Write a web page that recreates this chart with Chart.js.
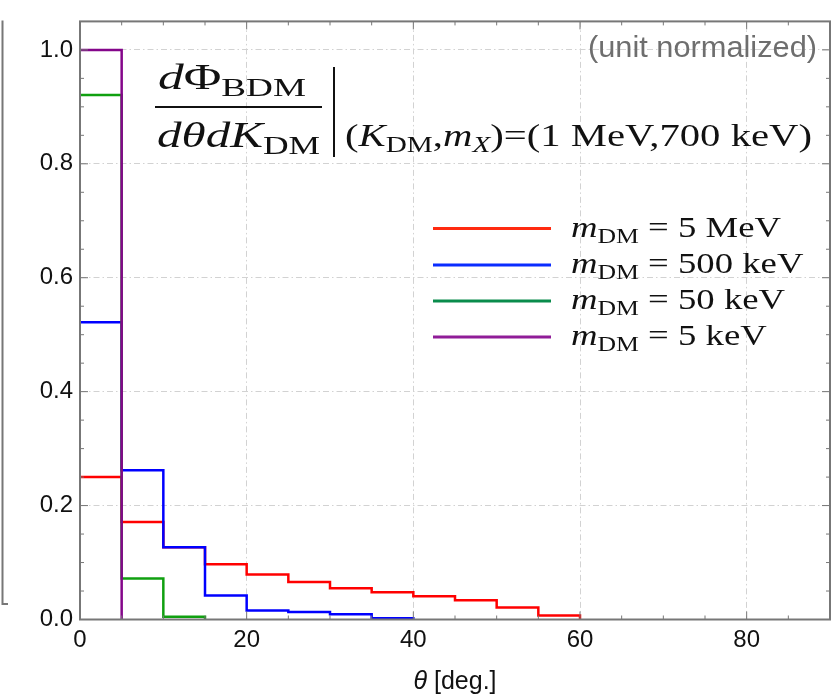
<!DOCTYPE html>
<html>
<head>
<meta charset="utf-8">
<script src="https://cdn.jsdelivr.net/npm/chart.js@4.4.1/dist/chart.umd.min.js"></script>
<style>
  html, body { margin: 0; padding: 0; background: #ffffff; }
  #wrap { width: 837px; height: 697px; }
</style>
</head>
<body>
<div id="wrap"><canvas id="c" width="837" height="697"></canvas></div>
<script>
// Angular bin edges of the histogram (degrees)
const thetaEdges = [0, 5, 10, 15, 20, 25, 30, 35, 40, 45, 50, 55, 60];

// Unit-normalized angular spectra, one value per 5-degree bin
const flux5MeV   = [0.250, 0.171, 0.127, 0.097, 0.079, 0.066, 0.055, 0.048, 0.041, 0.034, 0.021, 0.007];
const flux500keV = [0.522, 0.262, 0.127, 0.042, 0.016, 0.013, 0.009, 0.002];
const flux50keV  = [0.921, 0.072, 0.005];
const flux5keV   = [1.000];

// Dark-matter masses shown in the legend
const massLabels = ['5 MeV', '500 keV', '50 keV', '5 keV'];
const lineColors = ['#ff0000', '#0000ff', '#10a010', '#84068a'];
const keyColors  = ['#ff2a10', '#0a2cff', '#0a8c4c', '#901c98'];

// Axis ticks
const xTickValues = [0, 20, 40, 60, 80];
const yTickValues = [0.0, 0.2, 0.4, 0.6, 0.8, 1.0];

const SANS  = '"Liberation Sans", Arial, sans-serif';
const SERIF = '"Liberation Serif", "Times New Roman", serif';
const FRAME = '#777777';

// histogram outline: each value starts its bin, closing point drops to zero
function stepPoints(values) {
  const pts = values.map((v, i) => ({ x: thetaEdges[i], y: v }));
  pts.push({ x: thetaEdges[values.length], y: 0 });
  return pts;
}

const seriesValues = [flux5MeV, flux500keV, flux50keV, flux5keV];
const datasets = seriesValues.map((vals, i) => ({
  label: 'm_DM = ' + massLabels[i],
  data: stepPoints(vals),
  borderColor: lineColors[i],
  borderWidth: 2.5,
  stepped: true,
  pointRadius: 0,
  fill: false,
  order: seriesValues.length - i
}));

// text runs with a horizontal stretch to a given width
function drawRun(ctx, parts, x, y, width) {
  let natural = 0;
  parts.forEach(p => { ctx.font = p.font; p.w = ctx.measureText(p.text).width; natural += p.w; });
  const k = width ? width / natural : 1;
  ctx.save();
  ctx.translate(x, y);
  ctx.scale(k, 1);
  ctx.textAlign = 'left';
  ctx.textBaseline = 'alphabetic';
  let cx = 0;
  parts.forEach(p => { ctx.font = p.font; ctx.fillText(p.text, cx, p.dy || 0); cx += p.w; });
  ctx.restore();
}

const decor = {
  id: 'decor',
  afterDraw(chart) {
    const ctx = chart.ctx;
    const a = chart.chartArea;
    const xs = chart.scales.x, ys = chart.scales.y;
    ctx.save();

    // neighbouring panel edge
    ctx.strokeStyle = FRAME;
    ctx.lineWidth = 2;
    ctx.beginPath();
    ctx.moveTo(2.5, a.top - 1);
    ctx.lineTo(2.5, 604);
    ctx.lineTo(8, 604);
    ctx.stroke();

    // frame ticks
    ctx.lineWidth = 1;
    for (let t = 5; t < 90; t += 5) {
      const px = xs.getPixelForValue(t);
      const len = t % 20 === 0 ? 8 : 4;
      ctx.beginPath();
      ctx.moveTo(px, a.bottom); ctx.lineTo(px, a.bottom - len);
      ctx.moveTo(px, a.top); ctx.lineTo(px, a.top + len);
      ctx.stroke();
    }
    for (let k = 1; k <= 20; k++) {
      const py = ys.getPixelForValue(k * 0.05);
      const len = k % 4 === 0 ? 8 : 4;
      ctx.beginPath();
      ctx.moveTo(a.left, py); ctx.lineTo(a.left + len, py);
      ctx.moveTo(a.right, py); ctx.lineTo(a.right - len, py);
      ctx.stroke();
    }

    // frame
    ctx.lineWidth = 2;
    ctx.strokeRect(a.left, a.top, a.right - a.left, a.bottom - a.top);

    // normalization note
    ctx.fillStyle = '#6e6e6e';
    ctx.font = '29px ' + SANS;
    ctx.textAlign = 'right';
    ctx.textBaseline = 'alphabetic';
    const note = '(unit normalized)';
    const nw = ctx.measureText(note).width;
    ctx.save();
    ctx.translate(817, 57);
    ctx.scale(229 / nw, 1);
    ctx.fillText(note, 0, 0);
    ctx.restore();

    // differential flux expression
    ctx.fillStyle = '#111111';
    const I36 = 'italic 36px ' + SERIF, R36 = '36px ' + SERIF, R26 = '26px ' + SERIF;
    const I32 = 'italic 32px ' + SERIF, R32 = '32px ' + SERIF, R23 = '23px ' + SERIF, I23 = 'italic 23px ' + SERIF;
    drawRun(ctx, [
      { text: 'd', font: I36 }, { text: 'Φ', font: R36 }, { text: 'BDM', font: R26, dy: 7 }
    ], 158, 89, 148);
    drawRun(ctx, [
      { text: 'dθdK', font: I36 }, { text: 'DM', font: R26, dy: 7 }
    ], 157, 147, 163);
    ctx.strokeStyle = '#111111';
    ctx.lineWidth = 2;
    ctx.beginPath();
    ctx.moveTo(155, 107); ctx.lineTo(322, 107);
    ctx.moveTo(334, 67); ctx.lineTo(334, 157);
    ctx.stroke();
    drawRun(ctx, [
      { text: '(', font: R32 }, { text: 'K', font: I32 }, { text: 'DM', font: R23, dy: 6 },
      { text: ',', font: R32 }, { text: 'm', font: I32 }, { text: 'X', font: I23, dy: 6 },
      { text: ')=(1 MeV,700 keV)', font: R32 }
    ], 345, 146, 467);

    // legend
    const keyY = [228.5, 265, 301, 337];
    const I30 = 'italic 30px ' + SERIF, R30 = '30px ' + SERIF, R21 = '21px ' + SERIF;
    const baseParts = m => [
      { text: 'm', font: I30 }, { text: 'DM', font: R21, dy: 6 }, { text: ' = ' + m, font: R30 }
    ];
    // common stretch factor taken from the first entry
    let w0 = 0;
    baseParts(massLabels[0]).forEach(p => { ctx.font = p.font; w0 += ctx.measureText(p.text).width; });
    const stretch = 210 / w0;
    chart.data.datasets.forEach((ds, i) => {
      ctx.strokeStyle = keyColors[i];
      ctx.lineWidth = 3;
      ctx.beginPath();
      ctx.moveTo(433, keyY[i]); ctx.lineTo(551, keyY[i]);
      ctx.stroke();
      const parts = baseParts(massLabels[i]);
      let w = 0;
      parts.forEach(p => { ctx.font = p.font; w += ctx.measureText(p.text).width; });
      ctx.fillStyle = '#111111';
      drawRun(ctx, parts, 571, keyY[i] + 8, w * stretch);
    });

    // x-axis title
    ctx.fillStyle = '#111111';
    ctx.font = 'italic 25px ' + SANS;
    const tw = ctx.measureText('θ').width;
    ctx.font = '25px ' + SANS;
    const rest = ' [deg.]';
    const rw = ctx.measureText(rest).width;
    const cx = (a.left + a.right) / 2 - (tw + rw) / 2;
    ctx.textAlign = 'left';
    ctx.font = 'italic 25px ' + SANS;
    ctx.fillText('θ', cx, 689);
    ctx.font = '25px ' + SANS;
    ctx.fillText(rest, cx + tw, 689);

    ctx.restore();
  }
};

new Chart(document.getElementById('c'), {
  type: 'line',
  data: { datasets },
  options: {
    responsive: false,
    animation: false,
    devicePixelRatio: 1,
    layout: { padding: { top: 19, right: 7, left: 0, bottom: 0 } },
    plugins: { legend: { display: false }, tooltip: { enabled: false } },
    elements: { line: { tension: 0 } },
    scales: {
      x: {
        type: 'linear',
        min: 0, max: 90,
        afterBuildTicks: s => { s.ticks = xTickValues.map(v => ({ value: v })); },
        afterFit: s => { s.height = 77.5; },
        ticks: {
          color: '#111111',
          font: { family: SANS, size: 24 },
          padding: 6,
          maxRotation: 0,
          autoSkip: false,
          callback: v => String(v)
        },
        grid: { color: '#d2d2d2', lineWidth: 1, drawTicks: false },
        border: { display: false, dash: [6, 3, 1.5, 3] }
      },
      y: {
        min: 0, max: 1.05,
        afterBuildTicks: s => { s.ticks = yTickValues.map(v => ({ value: v })); },
        afterFit: s => { s.width = 80; },
        ticks: {
          color: '#111111',
          font: { family: SANS, size: 24 },
          padding: 7,
          callback: v => v.toFixed(1)
        },
        grid: { color: '#d2d2d2', lineWidth: 1, drawTicks: false },
        border: { display: false, dash: [6, 3, 1.5, 3] }
      }
    }
  },
  plugins: [decor]
});
</script>
</body>
</html>
